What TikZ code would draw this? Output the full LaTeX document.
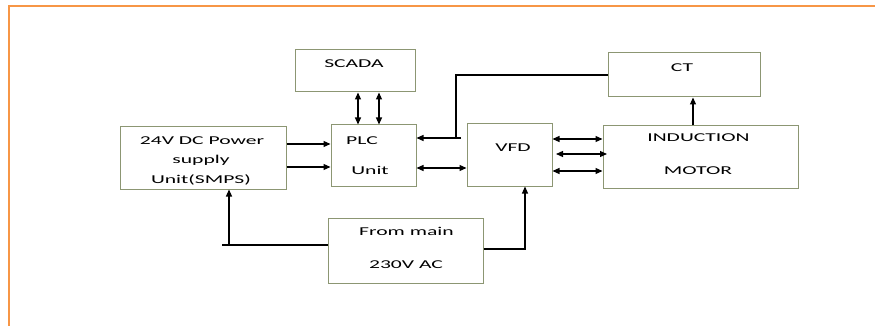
\documentclass[tikz,border=0pt]{standalone}
\usepackage{fontspec}
\setmainfont{Carlito}[FakeStretch=1.8]
\usetikzlibrary{arrows.meta,calc}
\definecolor{frameorange}{HTML}{F79646}
\definecolor{boxline}{RGB}{140,150,115}
\begin{document}
\begin{tikzpicture}[x=1pt,y=-1pt,
  box/.style={draw=boxline,line width=1pt,rectangle,inner sep=0pt},
  lbl/.style={inner sep=0pt,anchor=base,font=\fontsize{12}{14}\selectfont},
  conn/.style={line width=1.2pt,black},
  arr/.style={conn,-{Triangle[length=7pt,width=6pt]}},
  darr/.style={conn,{Triangle[length=7pt,width=6pt]}-{Triangle[length=7pt,width=6pt]}}]
\useasboundingbox (0,0) rectangle (875,326);
\fill[white] (0,0) rectangle (875,326);
\draw[frameorange,line width=2.5pt] (875,6) -- (9,6) -- (9,326);

% boxes
\node[box,minimum width=120pt,minimum height=42pt] (scada) at (355,71) {};
\node[box,minimum width=85pt,minimum height=61pt] (plc) at (373.5,155.5) {};
\node[box,minimum width=166pt,minimum height=62pt] (pwr) at (203,158) {};
\node[box,minimum width=85pt,minimum height=62pt] (vfd) at (509.5,155) {};
\node[box,minimum width=152pt,minimum height=44pt] (ct) at (684,75) {};
\node[box,minimum width=195pt,minimum height=62pt] (mot) at (700.5,157) {};
\node[box,minimum width=155pt,minimum height=65pt] (mains) at (405.5,250.5) {};

% labels
\node[lbl] (tscada) at (354,68) {SCADA};
\node[lbl] (tplc1) at (362,144) {PLC};
\node[lbl] (tplc2) at (370,174) {Unit};
\node[lbl] (tpwr1) at (202,145) {24V DC Power};
\node[lbl] (tpwr2) at (201,164) {supply};
\node[lbl] (tpwr3) at (201,183) {Unit(SMPS)};
\node[lbl] (tvfd) at (513,151) {VFD};
\node[lbl] (tct) at (682,72) {CT};
\node[lbl] (tmot1) at (698.5,142) {INDUCTION};
\node[lbl] (tmot2) at (698,174) {MOTOR};
\node[lbl] (tmain1) at (406.5,235) {From main};
\node[lbl] (tmain2) at (406,268) {230V AC};

% connectors
\draw[arr] (pwr.east |- 0,144) -- (plc.west |- 0,144);
\draw[arr] (pwr.east |- 0,167) -- (plc.west |- 0,167);
\draw[darr] (scada.south -| 358,0) -- (plc.north -| 358,0);
\draw[darr] (scada.south -| 379,0) -- (plc.north -| 379,0);

\coordinate (fbtop) at (456,75);
\coordinate (fbtee) at (456,138);
\coordinate (fbstub) at (461,138);
\draw[conn] (ct.west |- fbtop) -- (fbtop) -- (fbtee);
\draw[arr] (fbstub) -- (plc.east |- fbtee);

\draw[darr] (plc.east |- 0,168) -- (vfd.west |- 0,168);
\draw[darr] (vfd.east |- 0,139) -- (mot.west |- 0,139);
\draw[darr] (556,154) -- (607,154);
\draw[darr] (vfd.east |- 0,171) -- (mot.west |- 0,171);
\draw[arr] (mot.north -| 693,0) -- (ct.south -| 693,0);

\coordinate (lend) at (222,245);
\coordinate (lup) at (229,245);
\draw[conn] (mains.west |- lend) -- (lend);
\draw[arr] (lup) -- (pwr.south -| lup);

\coordinate (rcorner) at (525,249);
\draw[arr] (mains.east |- rcorner) -- (rcorner) -- (vfd.south -| rcorner);
\end{tikzpicture}
\end{document}
